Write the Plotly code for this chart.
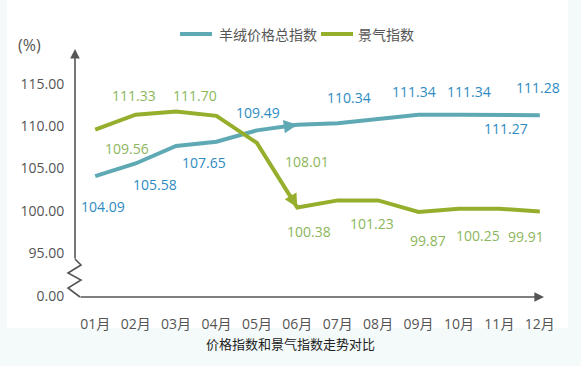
import plotly.graph_objects as go

# ---------------- data ----------------
months = ['01月', '02月', '03月', '04月', '05月', '06月', '07月', '08月', '09月', '10月', '11月', '12月']
price_name = '羊绒价格总指数'
climate_name = '景气指数'
price_index = [104.09, 105.58, 107.65, 108.15, 109.49, 110.16, 110.34, 110.80, 111.34, 111.34, 111.27, 111.28]
climate_index = [109.56, 111.33, 111.70, 111.20, 108.01, 100.38, 101.23, 101.23, 99.87, 100.25, 100.25, 99.91]
ytick_vals = [90, 95, 100, 105, 110, 115]
ytick_text = ['0.00', '95.00', '100.00', '105.00', '110.00', '115.00']
title_text = '价格指数和景气指数走势对比'
unit_text = '(%)'

# label placement (month index, dx px, dy px up)
price_labels = [(0, 8, -30), (1, 19, -21), (2, 28, -17), (4, 1, 18), (6, 11, 26),
                (8, -5, 23), (9, 10, 23), (10, 7, -13), (11, -2, 28)]
climate_labels = [(0, 32, -19), (1, -2, 19), (2, 19, 16), (4, 50, -19), (5, 12, -24),
                  (7, -6, -23), (8, 9, -29), (9, 19, -27), (11, -14, -25)]

# ---------------- style ----------------
W, H = 581, 366
ML, MR, MT, MB = 75, 21, 48, 67
XR = [-0.5, 11.5]
YR = [89.6, 119.2]
blue_line = '#5fa9b5'
green_line = '#95ae2c'
blue_text = '#2e8bc2'
green_text = '#8cb65c'
axis_col = '#555555'
FONT = 'Open Sans, Noto Sans CJK SC, sans-serif'

pw, ph = W - ML - MR, H - MT - MB


def X(px):
    return XR[0] + (px - ML) / pw * (XR[1] - XR[0])


def Y(py):
    return YR[0] + (MT + ph - py) / ph * (YR[1] - YR[0])


def PX(px):
    return (px - ML) / pw


def PY(py):
    return (MT + ph - py) / ph


fig = go.Figure()
fig.add_trace(go.Scatter(x=months, y=price_index, mode='lines', name=price_name,
                         line=dict(color=blue_line, width=4), showlegend=False, hoverinfo='skip'))
fig.add_trace(go.Scatter(x=months, y=climate_index, mode='lines', name=climate_name,
                         line=dict(color=green_line, width=4), showlegend=False, hoverinfo='skip'))

ann = []
for i, dx, dy in price_labels:
    ann.append(dict(x=months[i], y=price_index[i], text=f'{price_index[i]:.2f}', showarrow=False,
                    xshift=dx, yshift=dy, font=dict(size=14, color=blue_text, family=FONT)))
for i, dx, dy in climate_labels:
    ann.append(dict(x=months[i], y=climate_index[i], text=f'{climate_index[i]:.2f}', showarrow=False,
                    xshift=dx, yshift=dy, font=dict(size=14, color=green_text, family=FONT)))

# arrow marks at June on each line
ann.append(dict(x=months[5], y=price_index[5], ax=-14, ay=2, text='', showarrow=True,
                arrowhead=2, arrowsize=0.9, arrowwidth=3, arrowcolor=blue_line, standoff=0))
ann.append(dict(x=months[5], y=climate_index[5], ax=-8, ay=-14, text='', showarrow=True,
                arrowhead=2, arrowsize=0.9, arrowwidth=3, arrowcolor=green_line, standoff=0))

# axes with arrows
ann.append(dict(x=X(75), y=Y(49), ax=X(75), ay=Y(260), xref='x', yref='y', axref='x', ayref='y',
                text='', showarrow=True, arrowhead=2, arrowsize=1.2, arrowwidth=1.6, arrowcolor=axis_col))
ann.append(dict(x=X(544), y=Y(297), ax=X(79), ay=Y(297), xref='x', yref='y', axref='x', ayref='y',
                text='', showarrow=True, arrowhead=2, arrowsize=1.2, arrowwidth=1.6, arrowcolor=axis_col))

# legend
ann.append(dict(x=PX(217), y=PY(34), xref='paper', yref='paper', text=price_name, showarrow=False,
                xanchor='left', yanchor='middle', font=dict(size=14, color=axis_col, family=FONT)))
ann.append(dict(x=PX(356), y=PY(34), xref='paper', yref='paper', text=climate_name, showarrow=False,
                xanchor='left', yanchor='middle', font=dict(size=14, color=axis_col, family=FONT)))
# unit and title
ann.append(dict(x=PX(29), y=PY(45), xref='paper', yref='paper', text=unit_text, showarrow=False,
                xanchor='center', yanchor='middle', font=dict(size=16, color=axis_col, family=FONT)))
ann.append(dict(x=PX(290), y=PY(344), xref='paper', yref='paper', text=title_text, showarrow=False,
                xanchor='center', yanchor='middle', font=dict(size=13, color='#222222', family=FONT)))

zig = [(75, 259), (81, 265), (68, 273), (81, 280), (68, 288), (80, 297)]
path = 'M ' + ' L '.join(f'{PX(a):.5f},{PY(b):.5f}' for a, b in zig)

shapes = [
    dict(type='rect', xref='paper', yref='paper', x0=PX(7), x1=PX(568), y0=PY(328), y1=PY(0),
         fillcolor='white', line=dict(width=0), layer='below'),
    dict(type='path', xref='paper', yref='paper', path=path, line=dict(color=axis_col, width=1.6)),
    dict(type='line', xref='paper', yref='paper', x0=PX(180), x1=PX(212), y0=PY(34), y1=PY(34),
         line=dict(color=blue_line, width=4)),
    dict(type='line', xref='paper', yref='paper', x0=PX(321), x1=PX(353), y0=PY(34), y1=PY(34),
         line=dict(color=green_line, width=4)),
]

fig.update_layout(
    width=W, height=H,
    margin=dict(l=ML, r=MR, t=MT, b=MB),
    paper_bgcolor='#f4fafa', plot_bgcolor='rgba(0,0,0,0)',
    showlegend=False,
    annotations=ann, shapes=shapes,
    font=dict(family=FONT, color=axis_col, size=14),
    xaxis=dict(type='category', range=XR, showgrid=False, zeroline=False, showline=False,
               ticks='outside', ticklen=12, tickcolor='rgba(0,0,0,0)',
               tickfont=dict(size=14, color=axis_col, family=FONT)),
    yaxis=dict(range=YR, tickvals=ytick_vals, ticktext=ytick_text, showgrid=False, zeroline=False,
               showline=False, ticks='outside', ticklen=7, tickcolor='rgba(0,0,0,0)',
               tickfont=dict(size=14, color=axis_col, family=FONT)),
)

fig.write_html('out.html', config={'displayModeBar': False},
               post_script="document.body.style.margin='0';document.body.style.overflow='hidden';")
